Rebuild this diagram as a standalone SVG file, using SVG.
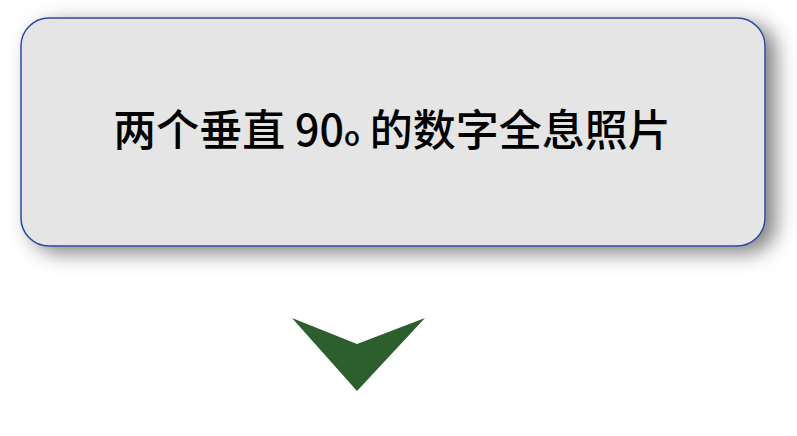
<svg xmlns="http://www.w3.org/2000/svg" width="797" height="436" viewBox="0 0 797 436">
<defs>
<style>
.box{fill:#e5e5e5;stroke:#2b4aa0;stroke-width:1.5;filter:url(#sh)}
.lbl{font-family:"Noto Sans CJK SC","Noto Sans",sans-serif;font-size:43px;font-weight:500;fill:#000;text-anchor:middle}
.arr{fill:#2d5e2e}
</style>
<filter id="sh" x="-10%" y="-25%" width="125%" height="170%">
<feDropShadow dx="10" dy="6" stdDeviation="10" flood-color="#000" flood-opacity="0.5"/>
</filter>
</defs>
<rect width="797" height="436" fill="#fff"/>
<g id="node1">
<rect class="box" x="21" y="18" width="744" height="228" rx="28" ry="28"/>
<text class="lbl" x="392" y="146">两个垂直 90<tspan font-size="26">o</tspan> 的数字全息照片</text>
</g>
<g id="connectors">
<polygon class="arr" points="292,318 357,344 425,318 357,391"/>
</g>
</svg>
